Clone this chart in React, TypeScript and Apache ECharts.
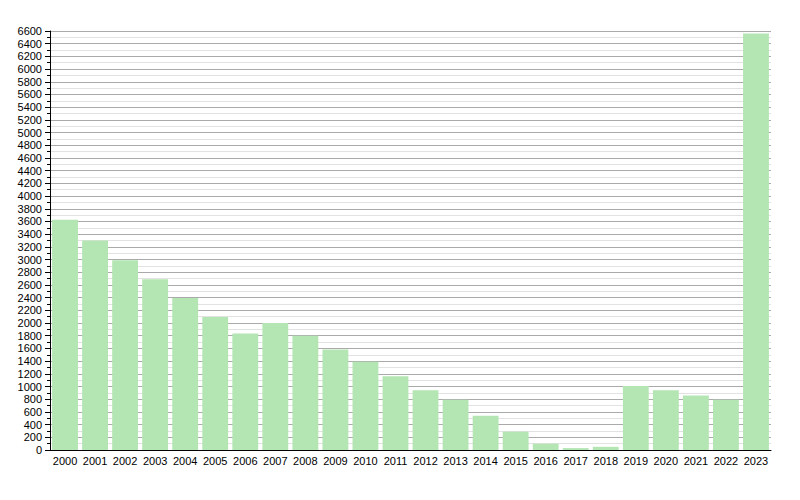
import React, { useEffect, useRef } from "react";
import * as echarts from "echarts";

const years = [
  "2000", "2001", "2002", "2003", "2004", "2005", "2006", "2007", "2008", "2009", "2010", "2011",
  "2012", "2013", "2014", "2015", "2016", "2017", "2018", "2019", "2020", "2021", "2022", "2023",
];
const values = [
  3625, 3300, 2990, 2690, 2395, 2095, 1835, 2000, 1800, 1585, 1390, 1160,
  940, 790, 540, 290, 100, 30, 50, 1010, 940, 860, 790, 6560,
];
const yMin = 0;
const yMax = 6600;
const yStep = 200;

export default function App() {
  const ref = useRef<HTMLDivElement>(null);
  useEffect(() => {
    if (!ref.current) return;
    const chart = echarts.init(ref.current, undefined, { renderer: "svg" });
    const font = "'Liberation Sans', Arial, sans-serif";
    chart.setOption({
      animation: false,
      grid: { left: 50, right: 29, top: 31, bottom: 50, containLabel: false },
      xAxis: {
        type: "category",
        data: years,
        axisLine: { show: true, lineStyle: { color: "#000", width: 1 } },
        axisTick: { show: false },
        axisLabel: { color: "#000", fontSize: 11, fontFamily: font, margin: 5, interval: 0 },
        splitLine: { show: false },
        z: 10,
      },
      yAxis: {
        type: "value",
        min: yMin,
        max: yMax,
        interval: yStep,
        axisLine: { show: true, lineStyle: { color: "#000", width: 1 } },
        axisTick: { show: true, length: 5, lineStyle: { color: "#000" } },
        minorTick: { show: true, splitNumber: 2, length: 3, lineStyle: { color: "#000" } },
        axisLabel: {
          color: "#000",
          fontSize: 11,
          fontFamily: font,
          margin: 8,
          formatter: (v: number) => String(v),
        },
        splitLine: { show: true, lineStyle: { color: "#aaaaaa", width: 1 } },
        minorSplitLine: { show: true, lineStyle: { color: "#e2e2e2", width: 1 } },
        z: 0,
      },
      series: [
        {
          type: "bar",
          data: values,
          barCategoryGap: "14%",
          itemStyle: { color: "#b3e6b3" },
          z: 2,
        },
      ],
    });
    return () => chart.dispose();
  }, []);
  return <div ref={ref} style={{ width: 800, height: 500, margin: -8 }} />;
}
